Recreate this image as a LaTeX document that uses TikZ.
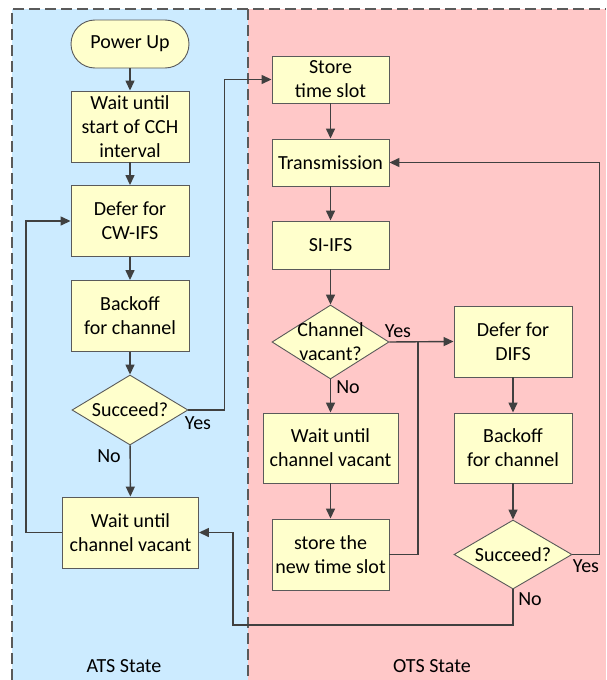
\documentclass[tikz,border=0pt]{standalone}
\usepackage{fontspec}
\setmainfont{Carlito}
\usetikzlibrary{arrows.meta,shapes.geometric}
\definecolor{atsblue}{HTML}{CCEBFF}
\definecolor{otspink}{HTML}{FFC8C8}
\definecolor{boxfill}{HTML}{FFFFCC}
\definecolor{edgegray}{HTML}{404040}
\definecolor{framegray}{HTML}{5A5A5A}
\begin{document}
\begin{tikzpicture}[
  x=1pt, y=-1pt,
  font=\fontsize{20}{24}\selectfont,
  >={Triangle[length=10pt,width=9pt]},
  box/.style={draw=framegray, fill=boxfill, line width=0.9pt, align=center,
    inner sep=0pt, minimum width=118pt, minimum height=71pt},
  term/.style={box, rounded corners=24pt, minimum height=48pt},
  decision/.style={diamond, draw=framegray, fill=boxfill, line width=0.9pt,
    align=center, inner sep=-12pt, minimum width=117pt, minimum height=72pt},
  flow/.style={draw=edgegray, line width=1.4pt},
  lbl/.style={inner sep=1pt}
]
\useasboundingbox (0,0) rectangle (606,680);
\fill [atsblue] (12,9) rectangle (248,680);
\fill [otspink] (248,9) rectangle (606,680);
\draw [framegray, line width=1.4pt, dash pattern=on 11pt off 5pt] (12,680) -- (12,9) -- (606,9);
\draw [framegray, line width=1.4pt, dash pattern=on 11pt off 5pt] (248,9) -- (248,680);

\node [term] (pu) at (130,44) {Power Up};
\node [box] (wcch) at (130,126.5) {Wait until\\start of CCH\\interval};
\node [box] (dcw) at (130,221) {Defer for\\CW-IFS};
\node [box] (bo1) at (130,316) {Backoff\\for channel};
\node [decision, minimum width=116pt, minimum height=70pt] (suc1) at (130,410) {Succeed?};
\node [box, minimum width=136pt] (wcv1) at (130.5,532.5) {Wait until\\channel vacant};

\node [box, minimum width=117pt, minimum height=47pt] (sts) at (330.5,79.5) {Store\\time slot};
\node [box, minimum width=117pt, minimum height=47pt] (trans) at (330.5,162.5) {Transmission};
\node [box, minimum width=117pt, minimum height=48pt] (sifs) at (330.5,245) {SI-IFS};
\node [decision, minimum height=74pt] (cv) at (330.5,342) {Channel\\vacant?};
\node [box, minimum width=135pt, minimum height=70pt] (wcv2) at (330.5,448) {Wait until\\channel vacant};
\node [box, minimum width=117pt] (stn) at (330.5,554.5) {store the\\new time slot};

\node [box] (ddifs) at (513,341.5) {Defer for\\DIFS};
\node [box, minimum height=70pt] (bo2) at (513,448) {Backoff\\for channel};
\node [decision, minimum width=118pt, minimum height=69pt] (suc2) at (513,554.5) {Succeed?};

\coordinate (join) at (418,342);
\coordinate (back) at (233,625);

\draw [flow, ->] (pu) -- (wcch);
\draw [flow, ->] (wcch) -- (dcw);
\draw [flow, ->] (dcw) -- (bo1);
\draw [flow, ->] (bo1) -- (suc1);
\draw [flow, ->] (suc1) -- (wcv1);
\draw [flow, ->] (wcv1.west) -- ++(-36,0) |- (dcw.west);
\draw [flow, ->] (suc1.east) -- ++(36,0) |- (sts.west);
\draw [flow, ->] (sts) -- (trans);
\draw [flow, ->] (trans) -- (sifs);
\draw [flow, ->] (sifs) -- (cv);
\draw [flow, ->] (cv.east) -- (ddifs.west);
\draw [flow, ->] (cv) -- (wcv2);
\draw [flow, ->] (wcv2) -- (stn);
\draw [flow] (stn.east) -| (join);
\draw [flow, ->] (ddifs) -- (bo2);
\draw [flow, ->] (bo2) -- (suc2);
\draw [flow, ->] (suc2.east) -- ++(27,0) |- (trans.east);
\draw [flow, ->] (suc2.south) |- (back) |- (wcv1.east);

\node [lbl] (yes1) at (198,423) {Yes};
\node [lbl] (no1) at (109,456) {No};
\node [lbl] (yes2) at (398,331) {Yes};
\node [lbl] (no2) at (348,387) {No};
\node [lbl] (yes3) at (586,566) {Yes};
\node [lbl] (no3) at (530,599) {No};

\node (ats) at (124,666) {ATS State};
\node (ots) at (432,666) {OTS State};
\end{tikzpicture}
\end{document}
